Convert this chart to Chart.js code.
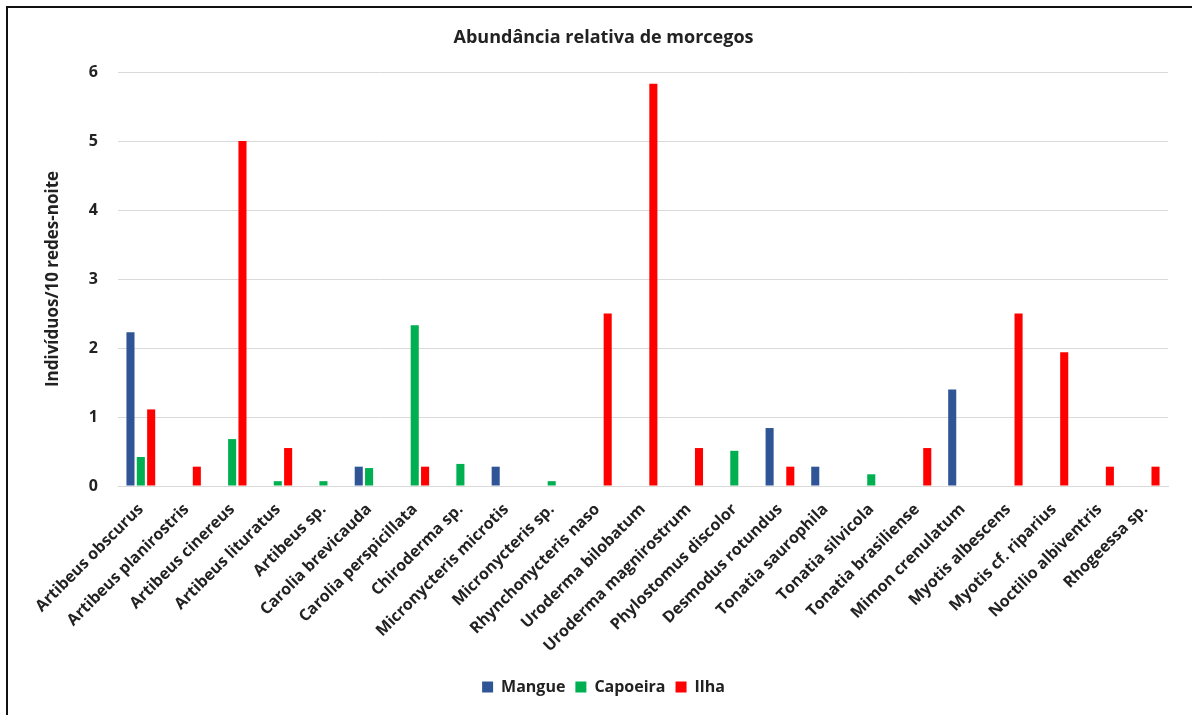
<!DOCTYPE html>
<html>
<head>
<meta charset="utf-8">
<script src="https://cdn.jsdelivr.net/npm/chart.js@4.4.1/dist/chart.umd.min.js"></script>
<style>
  html, body { margin: 0; padding: 0; background: #fff; }
  #wrap { position: relative; width: 1192px; height: 715px; overflow: hidden; }
  #frame { position: absolute; left: 6px; top: 6px; width: 1300px; height: 800px;
           border-left: 2px solid #111; border-top: 2px solid #111; box-sizing: border-box; }
  canvas { position: absolute; left: 0; top: 0; }
</style>
</head>
<body>
<div id="wrap">
  <div id="frame"></div>
  <canvas id="c" width="1192" height="715"></canvas>
</div>
<script>
const categories = [
  "Artibeus obscurus", "Artibeus planirostris", "Artibeus cinereus", "Artibeus lituratus",
  "Artibeus sp.", "Carolia brevicauda", "Carolia perspicillata", "Chiroderma sp.",
  "Micronycteris microtis", "Micronycteris sp.", "Rhynchonycteris naso", "Uroderma bilobatum",
  "Uroderma magnirostrum", "Phylostomus discolor", "Desmodus rotundus", "Tonatia saurophila",
  "Tonatia silvicola", "Tonatia brasiliense", "Mimon crenulatum", "Myotis albescens",
  "Myotis cf. riparius", "Noctilio albiventris", "Rhogeessa sp."
];
const mangue   = [2.23, 0, 0, 0, 0, 0.28, 0, 0, 0.28, 0, 0, 0, 0, 0, 0.84, 0.28, 0, 0, 1.40, 0, 0, 0, 0];
const capoeira = [0.42, 0, 0.68, 0.07, 0.07, 0.26, 2.33, 0.32, 0, 0.07, 0, 0, 0, 0.51, 0, 0, 0.17, 0, 0, 0, 0, 0, 0];
const ilha     = [1.11, 0.28, 5.0, 0.55, 0, 0, 0.28, 0, 0, 0, 2.5, 5.83, 0.55, 0, 0.28, 0, 0, 0.55, 0, 2.5, 1.94, 0.28, 0.28];
const seriesNames = ["Mangue", "Capoeira", "Ilha"];
const yTicks = [0, 1, 2, 3, 4, 5, 6];
const chartTitle = "Abundância relativa de morcegos";
const yTitle = "Indivíduos/10 redes-noite";

const FONT = "'Open Sans', 'Noto Sans', sans-serif";
const TXT = "#222";

const mk = (label, data, color) => ({
  label, data, backgroundColor: color, borderWidth: 0,
  categoryPercentage: 0.68, barPercentage: 0.78
});

new Chart(document.getElementById('c'), {
  type: 'bar',
  data: {
    labels: categories,
    datasets: [
      mk(seriesNames[0], mangue, '#2F5597'),
      mk(seriesNames[1], capoeira, '#00B050'),
      mk(seriesNames[2], ilha, '#FF0000')
    ]
  },
  options: {
    responsive: false,
    animation: false,
    devicePixelRatio: 1,
    layout: { padding: { top: 27, left: 39, right: 24, bottom: 10 } },
    plugins: {
      title: {
        display: true, text: chartTitle, color: TXT,
        font: { family: FONT, size: 18, weight: 'bold' },
        padding: { top: 0, bottom: 23.4 }
      },
      legend: {
        position: 'bottom',
        labels: {
          color: TXT, boxWidth: 11, boxHeight: 11, padding: 10,
          font: { family: FONT, size: 16, weight: 'bold' }
        }
      },
      tooltip: { enabled: false }
    },
    scales: {
      x: {
        grid: { display: false },
        border: { display: true, color: '#d9d9d9' },
        ticks: {
          color: TXT, minRotation: 45, maxRotation: 45, autoSkip: false, padding: 6,
          font: { family: FONT, size: 16, weight: 'bold' }
        },
        afterFit: (s) => { s.height = 183; }
      },
      y: {
        min: 0, max: 6,
        afterBuildTicks: (s) => { s.ticks = yTicks.map(v => ({ value: v })); },
        grid: { color: '#d9d9d9', lineWidth: 1, drawTicks: false },
        border: { display: false },
        ticks: {
          color: TXT, padding: 20,
          font: { family: FONT, size: 16, weight: 'bold' }
        },
        title: {
          display: true, text: yTitle, color: TXT,
          font: { family: FONT, size: 17, weight: 'bold' },
          padding: { top: 4, bottom: 4 }
        },
        afterFit: (s) => { s.width = 79; }
      }
    }
  }
});
</script>
</body>
</html>
